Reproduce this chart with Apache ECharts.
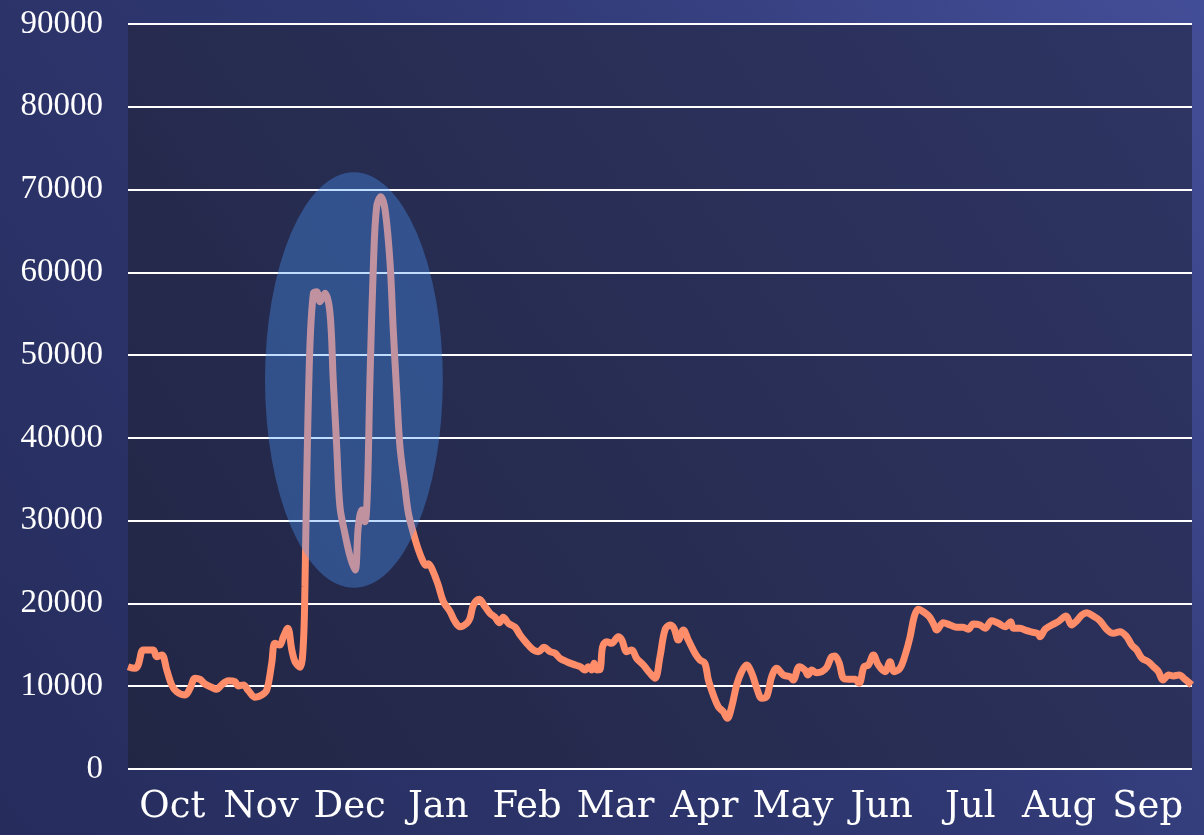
<!DOCTYPE html>
<html>
<head>
    <meta charset="utf-8">
    <title>Daily count</title>
    <style>
        html, body { margin: 0; padding: 0; }
        #chart { width: 1204px; height: 835px; }
    </style>
</head>
<body>
<div id="chart"></div>
<script src="https://cdn.jsdelivr.net/npm/echarts@6/dist/echarts.min.js"></script>
<script type="text/javascript">

    // month labels (one per month, Oct .. Sep)
    var months = ['Oct', 'Nov', 'Dec', 'Jan', 'Feb', 'Mar', 'Apr', 'May', 'Jun', 'Jul', 'Aug', 'Sep'];

    // day offset from Oct 1
    var days = [
        0, 2.4, 3.5, 5.2, 7.0, 8.7, 9.8, 11.6, 13.3, 15.0, 16.7, 19.6, 21.3, 23.0, 24.7, 26.4, 28.7, 30.4,
        32.1, 34.4, 36.7, 37.8, 39.6, 41.3, 43.6, 45.9, 47.6, 49.3, 50.4, 52.1, 53.3, 54.8, 56.2, 57.3,
        59.0, 60.1, 60.7, 61.3, 62.4, 63.6, 64.7, 65.9, 67.6, 69.3, 70.4, 71.6, 72.7, 74.4, 76.2, 77.9,
        79.0, 80.2, 81.3, 82.1, 83.0, 84.2, 85.3, 86.7, 88.2, 89.9, 91.0, 92.2, 93.3, 95.0, 96.2, 97.9,
        99.6, 101.3, 102.2, 103.0, 104.7, 106.4, 108.2, 110.5, 112.2, 113.9, 116.2, 117.3, 118.5, 120.5,
        122.5, 124.2, 125.9, 127.4, 128.7, 130.5, 132.8, 134.5, 136.8, 139.0, 140.8, 142.7, 144.8, 146.5,
        148.2, 150.5, 152.8, 155.1, 156.8, 157.9, 159.1, 159.9, 160.8, 161.9, 162.8, 164.2, 165.9, 168.2,
        169.4, 171.1, 172.8, 174.5, 176.8, 179.1, 180.8, 182.5, 184.2, 185.9, 187.3, 188.8, 190.5, 192.2,
        194.5, 196.2, 197.9, 199.1, 200.8, 202.5, 204.2, 205.6, 207.1, 208.8, 210.5, 212.2, 214.0, 215.7,
        217.4, 219.1, 220.8, 222.5, 224.8, 227.1, 228.2, 230.3, 232.2, 233.3, 234.5, 236.2, 238.0, 239.7,
        241.4, 242.5, 244.0, 245.4, 247.1, 249.4, 250.8, 252.5, 254.0, 255.7, 257.4, 259.7, 261.4, 262.8,
        264.8, 266.6, 268.3, 269.7, 271.1, 272.8, 274.9, 276.5, 277.4, 279.7, 282.0, 284.2, 286.5, 288.2,
        290.0, 292.3, 294.0, 296.3, 298.6, 300.9, 302.8, 303.7, 306.0, 308.3, 310.6, 312.3, 312.9, 314.6,
        316.9, 319.1, 321.8, 323.7, 325.5, 327.2, 328.9, 331.1, 333.4, 335.7, 338.0, 340.3, 342.6, 344.3,
        346.0, 347.8, 350.0, 351.8, 353.5, 355.0, 357.0, 358.7, 360.6, 362.6, 364.9
    ];

    // values at those days
    var counts = [
        12360, 12160, 12560, 14380, 14380, 14380, 13570, 13770, 11960, 10150, 9340, 8940, 9750, 10960, 10830, 10270, 9870, 9620,
        10150, 10670, 10550, 10030, 10150, 9460, 8660, 8940, 9540, 12770, 15190, 14980, 15980, 17000, 14380, 12960,
        12300, 14770, 22000, 34900, 51000, 57460, 57660, 56450, 57460, 55050, 47000, 38930, 31690, 28470, 25650, 24040,
        29270, 31290, 29870, 33300, 47000, 61090, 67930, 69140, 67530, 61090, 53030, 45380, 38930, 34100, 30880, 28500,
        26500, 25000, 24600, 24800, 23840, 22230, 20210, 19000, 17800, 17190, 17600, 18200, 19810, 20500,
        19610, 18810, 18330, 17680, 18330, 17600, 17120, 16190, 15180, 14380, 14170, 14700, 14170, 13980,
        13370, 12960, 12640, 12360, 11960, 12360, 11960, 12770, 11960, 12000, 14770, 15380, 15180, 15980,
        15580, 14170, 14380, 13370, 12560, 11560, 10960, 13570, 16790, 17400, 17000, 15580, 16790, 15580,
        13980, 13170, 12770, 10750, 8940, 7530, 6920, 6120, 7530, 10150, 11760, 12560, 11560, 9750,
        8540, 8740, 11150, 12160, 11360, 11150, 10750, 12360, 11960, 11360, 11960, 11630, 11760, 12280,
        13570, 13650, 12770, 10960, 10830, 10830, 10350, 12360, 12560, 13770, 12560, 11760, 12960, 11760,
        12160, 13770, 15980, 18400, 19290, 19000, 18400, 17400, 16790, 17680, 17400, 17120, 17120, 16880,
        17520, 17400, 17000, 17920, 17600, 17190, 17800, 17000, 17000, 16710, 16510, 16310, 15980, 16880,
        17400, 17800, 18480, 17400, 17920, 18600, 18880, 18480, 17920, 16880, 16390, 16590, 15980, 14980,
        14380, 13370, 12960, 12360, 11760, 10750, 11360, 11230, 11360, 10830, 10150
    ];

    // highlighted region (centre day / value and half sizes)
    var highlight = { day: 77.5, value: 47000, halfDays: 30.5, halfValue: 25100 };

    var lineData = days.map(function (d, i) { return [d, counts[i]]; });

    var myChart = echarts.init(document.getElementById('chart'));

    myChart.setOption({
        backgroundColor: new echarts.graphic.LinearGradient(0, 1, 1, 0, [
            { offset: 0, color: '#262c5c' },
            { offset: 0.55, color: '#2f3872' },
            { offset: 1, color: '#434e98' }
        ]),
        animation: false,
        grid: {
            left: 128,
            right: 12,
            top: 24,
            bottom: 66,
            show: true,
            borderWidth: 0,
            backgroundColor: new echarts.graphic.LinearGradient(0, 1, 1, 0, [
                { offset: 0, color: '#222645' },
                { offset: 1, color: '#2e3563' }
            ])
        },
        xAxis: [{
            type: 'category',
            data: months,
            boundaryGap: true,
            axisLine: { show: false },
            axisTick: { show: false },
            splitLine: { show: false },
            axisLabel: {
                color: '#ffffff',
                fontFamily: 'DejaVu Serif',
                fontSize: 37,
                margin: 20,
                interval: 0
            }
        }, {
            type: 'value',
            min: 0,
            max: 365,
            show: false
        }],
        yAxis: {
            type: 'value',
            min: 0,
            max: 90000,
            interval: 10000,
            axisLine: { show: false },
            axisTick: { show: false },
            axisLabel: {
                color: '#ffffff',
                fontFamily: 'Liberation Serif',
                fontSize: 33,
                margin: 25,
                formatter: function (v) { return String(v); }
            },
            splitLine: { lineStyle: { color: '#ffffff', width: 2 } }
        },
        series: [{
            type: 'line',
            xAxisIndex: 1,
            data: lineData,
            smooth: 0.35,
            showSymbol: false,
            lineStyle: { color: '#ff8d6a', width: 7 },
            z: 3
        }]
    });

    // ellipse over the peaks, placed through the axes
    var c = myChart.convertToPixel({ seriesIndex: 0 }, [highlight.day, highlight.value]);
    var e = myChart.convertToPixel({ seriesIndex: 0 }, [highlight.day + highlight.halfDays, highlight.value + highlight.halfValue]);
    var rx = Math.abs(e[0] - c[0]);
    var ry = Math.abs(c[1] - e[1]);

    myChart.setOption({
        graphic: [{
            type: 'circle',
            x: c[0],
            y: c[1],
            scaleY: ry / rx,
            shape: { cx: 0, cy: 0, r: rx },
            style: { fill: 'rgba(75, 155, 255, 0.35)' },
            z: 100
        }]
    });

</script>
</body>
</html>
